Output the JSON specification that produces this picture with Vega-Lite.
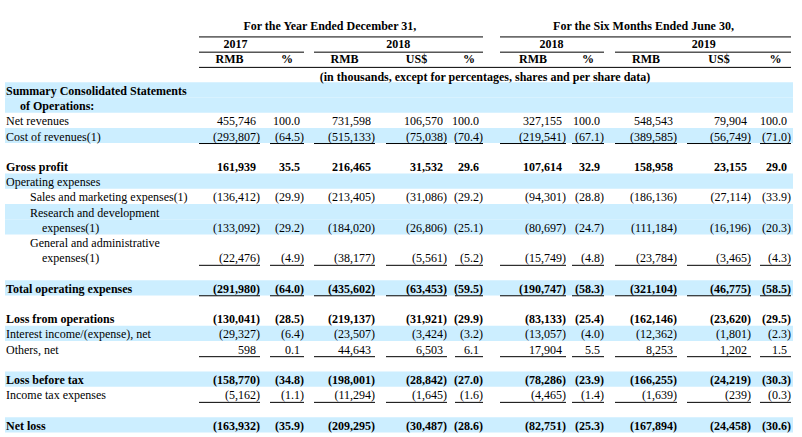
{
  "$schema": "https://vega.github.io/schema/vega-lite/v6.json",
  "width": 802,
  "height": 437,
  "padding": 0,
  "autosize": {"type": "none"},
  "background": "white",
  "config": {"view": {"stroke": null}},
  "datasets": {
    "bands": [{"r":0,"c1":-1,"c2":9},{"r":1,"c1":-1,"c2":9},{"r":3,"c1":-1,"c2":9},{"r":6,"c1":-1,"c2":9},{"r":8,"c1":-1,"c2":9},{"r":9,"c1":-1,"c2":9},{"r":13,"c1":-1,"c2":9},{"r":16,"c1":-1,"c2":9},{"r":19,"c1":-1,"c2":9},{"r":22,"c1":-1,"c2":9}],
    "hdr": [
      {"r":-4,"c":1.63,"t":"For the Year Ended December 31,"},
      {"r":-4,"c":6.73,"t":"For the Six Months Ended June 30,"},
      {"r":-3,"c":-0.2,"t":"2017"},
      {"r":-3,"c":2.6,"t":"2018"},
      {"r":-3,"c":4.89,"t":"2018"},
      {"r":-3,"c":7.63,"t":"2019"},
      {"r":-2,"c":-0.25,"t":"RMB"},
      {"r":-2,"c":0.75,"t":"%"},
      {"r":-2,"c":1.75,"t":"RMB"},
      {"r":-2,"c":2.75,"t":"US$"},
      {"r":-2,"c":3.75,"t":"%"},
      {"r":-2,"c":4.75,"t":"RMB"},
      {"r":-2,"c":5.75,"t":"%"},
      {"r":-2,"c":6.75,"t":"RMB"},
      {"r":-2,"c":7.75,"t":"US$"},
      {"r":-2,"c":8.75,"t":"%"},
      {"r":-1,"c":4.06,"t":"(in thousands, except for percentages, shares and per share data)"}
    ],
    "lines": [
      {"r":-4,"c1":-0.5,"c2":4},{"r":-4,"c1":4.5,"c2":9},
      {"r":-3,"c1":-0.5,"c2":1},{"r":-3,"c1":1.5,"c2":4},{"r":-3,"c1":4.5,"c2":6},{"r":-3,"c1":6.5,"c2":9},
      {"r":-2,"c1":-0.5,"c2":9},
      {"r":3,"c1":-0.5,"c2":0},{"r":3,"c1":0.5,"c2":1},{"r":3,"c1":1.5,"c2":2},{"r":3,"c1":2.5,"c2":3},{"r":3,"c1":3.5,"c2":4},{"r":3,"c1":4.5,"c2":5},{"r":3,"c1":5.5,"c2":6},{"r":3,"c1":6.5,"c2":7},{"r":3,"c1":7.5,"c2":8},{"r":3,"c1":8.5,"c2":9},
      {"r":11,"c1":-0.5,"c2":0},{"r":11,"c1":0.5,"c2":1},{"r":11,"c1":1.5,"c2":2},{"r":11,"c1":2.5,"c2":3},{"r":11,"c1":3.5,"c2":4},{"r":11,"c1":4.5,"c2":5},{"r":11,"c1":5.5,"c2":6},{"r":11,"c1":6.5,"c2":7},{"r":11,"c1":7.5,"c2":8},{"r":11,"c1":8.5,"c2":9},
      {"r":13,"c1":-0.5,"c2":0},{"r":13,"c1":0.5,"c2":1},{"r":13,"c1":1.5,"c2":2},{"r":13,"c1":2.5,"c2":3},{"r":13,"c1":3.5,"c2":4},{"r":13,"c1":4.5,"c2":5},{"r":13,"c1":5.5,"c2":6},{"r":13,"c1":6.5,"c2":7},{"r":13,"c1":7.5,"c2":8},{"r":13,"c1":8.5,"c2":9},
      {"r":17,"c1":-0.5,"c2":0},{"r":17,"c1":0.5,"c2":1},{"r":17,"c1":1.5,"c2":2},{"r":17,"c1":2.5,"c2":3},{"r":17,"c1":3.5,"c2":4},{"r":17,"c1":4.5,"c2":5},{"r":17,"c1":5.5,"c2":6},{"r":17,"c1":6.5,"c2":7},{"r":17,"c1":7.5,"c2":8},{"r":17,"c1":8.5,"c2":9},
      {"r":20,"c1":-0.5,"c2":0},{"r":20,"c1":0.5,"c2":1},{"r":20,"c1":1.5,"c2":2},{"r":20,"c1":2.5,"c2":3},{"r":20,"c1":3.5,"c2":4},{"r":20,"c1":4.5,"c2":5},{"r":20,"c1":5.5,"c2":6},{"r":20,"c1":6.5,"c2":7},{"r":20,"c1":7.5,"c2":8},{"r":20,"c1":8.5,"c2":9}
    ],
    "labs": [
      {"r":0,"c":-1,"t":"Summary Consolidated Statements","b":1,"l":0},
      {"r":1,"c":-1,"t":"of Operations:","b":1,"l":1},
      {"r":2,"c":-1,"t":"Net revenues","b":0,"l":0},
      {"r":3,"c":-1,"t":"Cost of revenues(1)","b":0,"l":0},
      {"r":5,"c":-1,"t":"Gross profit","b":1,"l":0},
      {"r":6,"c":-1,"t":"Operating expenses","b":0,"l":0},
      {"r":7,"c":-1,"t":"Sales and marketing expenses(1)","b":0,"l":2},
      {"r":8,"c":-1,"t":"Research and development","b":0,"l":2},
      {"r":9,"c":-1,"t":"expenses(1)","b":0,"l":3},
      {"r":10,"c":-1,"t":"General and administrative","b":0,"l":2},
      {"r":11,"c":-1,"t":"expenses(1)","b":0,"l":3},
      {"r":13,"c":-1,"t":"Total operating expenses","b":1,"l":0},
      {"r":15,"c":-1,"t":"Loss from operations","b":1,"l":0},
      {"r":16,"c":-1,"t":"Interest income/(expense), net","b":0,"l":0},
      {"r":17,"c":-1,"t":"Others, net","b":0,"l":0},
      {"r":19,"c":-1,"t":"Loss before tax","b":1,"l":0},
      {"r":20,"c":-1,"t":"Income tax expenses","b":0,"l":0},
      {"r":22,"c":-1,"t":"Net loss","b":1,"l":0}
    ],
    "vals": [
      {"r":2,"c":0,"v":455746,"b":0},{"r":2,"c":1,"v":100.0,"b":0},{"r":2,"c":2,"v":731598,"b":0},{"r":2,"c":3,"v":106570,"b":0},{"r":2,"c":4,"v":100.0,"b":0},{"r":2,"c":5,"v":327155,"b":0},{"r":2,"c":6,"v":100.0,"b":0},{"r":2,"c":7,"v":548543,"b":0},{"r":2,"c":8,"v":79904,"b":0},{"r":2,"c":9,"v":100.0,"b":0},
      {"r":3,"c":0,"v":-293807,"b":0},{"r":3,"c":1,"v":-64.5,"b":0},{"r":3,"c":2,"v":-515133,"b":0},{"r":3,"c":3,"v":-75038,"b":0},{"r":3,"c":4,"v":-70.4,"b":0},{"r":3,"c":5,"v":-219541,"b":0},{"r":3,"c":6,"v":-67.1,"b":0},{"r":3,"c":7,"v":-389585,"b":0},{"r":3,"c":8,"v":-56749,"b":0},{"r":3,"c":9,"v":-71.0,"b":0},
      {"r":5,"c":0,"v":161939,"b":1},{"r":5,"c":1,"v":35.5,"b":1},{"r":5,"c":2,"v":216465,"b":1},{"r":5,"c":3,"v":31532,"b":1},{"r":5,"c":4,"v":29.6,"b":1},{"r":5,"c":5,"v":107614,"b":1},{"r":5,"c":6,"v":32.9,"b":1},{"r":5,"c":7,"v":158958,"b":1},{"r":5,"c":8,"v":23155,"b":1},{"r":5,"c":9,"v":29.0,"b":1},
      {"r":7,"c":0,"v":-136412,"b":0},{"r":7,"c":1,"v":-29.9,"b":0},{"r":7,"c":2,"v":-213405,"b":0},{"r":7,"c":3,"v":-31086,"b":0},{"r":7,"c":4,"v":-29.2,"b":0},{"r":7,"c":5,"v":-94301,"b":0},{"r":7,"c":6,"v":-28.8,"b":0},{"r":7,"c":7,"v":-186136,"b":0},{"r":7,"c":8,"v":-27114,"b":0},{"r":7,"c":9,"v":-33.9,"b":0},
      {"r":9,"c":0,"v":-133092,"b":0},{"r":9,"c":1,"v":-29.2,"b":0},{"r":9,"c":2,"v":-184020,"b":0},{"r":9,"c":3,"v":-26806,"b":0},{"r":9,"c":4,"v":-25.1,"b":0},{"r":9,"c":5,"v":-80697,"b":0},{"r":9,"c":6,"v":-24.7,"b":0},{"r":9,"c":7,"v":-111184,"b":0},{"r":9,"c":8,"v":-16196,"b":0},{"r":9,"c":9,"v":-20.3,"b":0},
      {"r":11,"c":0,"v":-22476,"b":0},{"r":11,"c":1,"v":-4.9,"b":0},{"r":11,"c":2,"v":-38177,"b":0},{"r":11,"c":3,"v":-5561,"b":0},{"r":11,"c":4,"v":-5.2,"b":0},{"r":11,"c":5,"v":-15749,"b":0},{"r":11,"c":6,"v":-4.8,"b":0},{"r":11,"c":7,"v":-23784,"b":0},{"r":11,"c":8,"v":-3465,"b":0},{"r":11,"c":9,"v":-4.3,"b":0},
      {"r":13,"c":0,"v":-291980,"b":1},{"r":13,"c":1,"v":-64.0,"b":1},{"r":13,"c":2,"v":-435602,"b":1},{"r":13,"c":3,"v":-63453,"b":1},{"r":13,"c":4,"v":-59.5,"b":1},{"r":13,"c":5,"v":-190747,"b":1},{"r":13,"c":6,"v":-58.3,"b":1},{"r":13,"c":7,"v":-321104,"b":1},{"r":13,"c":8,"v":-46775,"b":1},{"r":13,"c":9,"v":-58.5,"b":1},
      {"r":15,"c":0,"v":-130041,"b":1},{"r":15,"c":1,"v":-28.5,"b":1},{"r":15,"c":2,"v":-219137,"b":1},{"r":15,"c":3,"v":-31921,"b":1},{"r":15,"c":4,"v":-29.9,"b":1},{"r":15,"c":5,"v":-83133,"b":1},{"r":15,"c":6,"v":-25.4,"b":1},{"r":15,"c":7,"v":-162146,"b":1},{"r":15,"c":8,"v":-23620,"b":1},{"r":15,"c":9,"v":-29.5,"b":1},
      {"r":16,"c":0,"v":-29327,"b":0},{"r":16,"c":1,"v":-6.4,"b":0},{"r":16,"c":2,"v":-23507,"b":0},{"r":16,"c":3,"v":-3424,"b":0},{"r":16,"c":4,"v":-3.2,"b":0},{"r":16,"c":5,"v":-13057,"b":0},{"r":16,"c":6,"v":-4.0,"b":0},{"r":16,"c":7,"v":-12362,"b":0},{"r":16,"c":8,"v":-1801,"b":0},{"r":16,"c":9,"v":-2.3,"b":0},
      {"r":17,"c":0,"v":598,"b":0},{"r":17,"c":1,"v":0.1,"b":0},{"r":17,"c":2,"v":44643,"b":0},{"r":17,"c":3,"v":6503,"b":0},{"r":17,"c":4,"v":6.1,"b":0},{"r":17,"c":5,"v":17904,"b":0},{"r":17,"c":6,"v":5.5,"b":0},{"r":17,"c":7,"v":8253,"b":0},{"r":17,"c":8,"v":1202,"b":0},{"r":17,"c":9,"v":1.5,"b":0},
      {"r":19,"c":0,"v":-158770,"b":1},{"r":19,"c":1,"v":-34.8,"b":1},{"r":19,"c":2,"v":-198001,"b":1},{"r":19,"c":3,"v":-28842,"b":1},{"r":19,"c":4,"v":-27.0,"b":1},{"r":19,"c":5,"v":-78286,"b":1},{"r":19,"c":6,"v":-23.9,"b":1},{"r":19,"c":7,"v":-166255,"b":1},{"r":19,"c":8,"v":-24219,"b":1},{"r":19,"c":9,"v":-30.3,"b":1},
      {"r":20,"c":0,"v":-5162,"b":0},{"r":20,"c":1,"v":-1.1,"b":0},{"r":20,"c":2,"v":-11294,"b":0},{"r":20,"c":3,"v":-1645,"b":0},{"r":20,"c":4,"v":-1.6,"b":0},{"r":20,"c":5,"v":-4465,"b":0},{"r":20,"c":6,"v":-1.4,"b":0},{"r":20,"c":7,"v":-1639,"b":0},{"r":20,"c":8,"v":-239,"b":0},{"r":20,"c":9,"v":-0.3,"b":0},
      {"r":22,"c":0,"v":-163932,"b":1},{"r":22,"c":1,"v":-35.9,"b":1},{"r":22,"c":2,"v":-209295,"b":1},{"r":22,"c":3,"v":-30487,"b":1},{"r":22,"c":4,"v":-28.6,"b":1},{"r":22,"c":5,"v":-82751,"b":1},{"r":22,"c":6,"v":-25.3,"b":1},{"r":22,"c":7,"v":-167894,"b":1},{"r":22,"c":8,"v":-24458,"b":1},{"r":22,"c":9,"v":-30.6,"b":1}
    ]
  },
  "encoding": {
    "x": {"field": "c", "type": "quantitative", "axis": null,
      "scale": {"domain": [-1,-0.5,0,0.5,1,1.5,2,2.5,3,3.5,4,4.5,5,5.5,6,6.5,7,7.5,8,8.5,9], "range": [6,199,260,270,304,314,375,386,447,455,483,500,566,572,604,615,677,687,751,760,791], "nice": false, "zero": false}},
    "y": {"field": "r", "type": "quantitative", "axis": null,
      "scale": {"domain": [-5.9, 22.8], "range": [0, 437], "nice": false, "zero": false}}
  },
  "layer": [
    {"data": {"name": "bands"},
     "mark": {"type": "rect", "color": "#CCEEFF", "xOffset": -1, "x2Offset": 2, "yOffset": -7.6, "y2Offset": 7.6},
     "encoding": {"x": {"field": "c1", "type": "quantitative"}, "x2": {"field": "c2"}, "y2": {"field": "r"}}},
    {"data": {"name": "lines"},
     "mark": {"type": "rule", "color": "black", "strokeWidth": 1, "yOffset": 8},
     "encoding": {"x": {"field": "c1", "type": "quantitative"}, "x2": {"field": "c2"}}},
    {"data": {"name": "hdr"}, "transform": [{"filter": "datum.r == -4"}],
     "mark": {"type": "text", "align": "center", "baseline": "middle", "font": "Liberation Serif", "fontSize": 12, "fontWeight": "bold", "color": "black", "dy": -3},
     "encoding": {"text": {"field": "t"}}},
    {"data": {"name": "hdr"}, "transform": [{"filter": "datum.r == -3 || datum.r == -2"}],
     "mark": {"type": "text", "align": "center", "baseline": "middle", "font": "Liberation Serif", "fontSize": 12, "fontWeight": "bold", "color": "black"},
     "encoding": {"text": {"field": "t"}}},
    {"data": {"name": "hdr"}, "transform": [{"filter": "datum.r == -1"}],
     "mark": {"type": "text", "align": "center", "baseline": "middle", "font": "Liberation Serif", "fontSize": 12, "fontWeight": "bold", "color": "black", "dy": 2},
     "encoding": {"text": {"field": "t"}}},
    {"data": {"name": "labs"}, "transform": [{"filter": "datum.b == 1 && datum.l == 0"}],
     "mark": {"type": "text", "align": "left", "baseline": "middle", "font": "Liberation Serif", "fontSize": 12, "fontWeight": "bold", "color": "black", "dy": 1},
     "encoding": {"text": {"field": "t"}}},
    {"data": {"name": "labs"}, "transform": [{"filter": "datum.b == 1 && datum.l == 1"}],
     "mark": {"type": "text", "align": "left", "baseline": "middle", "font": "Liberation Serif", "fontSize": 12, "fontWeight": "bold", "color": "black", "dx": 14, "dy": 1},
     "encoding": {"text": {"field": "t"}}},
    {"data": {"name": "labs"}, "transform": [{"filter": "datum.b == 0 && datum.l == 0"}],
     "mark": {"type": "text", "align": "left", "baseline": "middle", "font": "Liberation Serif", "fontSize": 12, "color": "black", "dy": 1},
     "encoding": {"text": {"field": "t"}}},
    {"data": {"name": "labs"}, "transform": [{"filter": "datum.b == 0 && datum.l == 2"}],
     "mark": {"type": "text", "align": "left", "baseline": "middle", "font": "Liberation Serif", "fontSize": 12, "color": "black", "dx": 24, "dy": 1},
     "encoding": {"text": {"field": "t"}}},
    {"data": {"name": "labs"}, "transform": [{"filter": "datum.b == 0 && datum.l == 3"}],
     "mark": {"type": "text", "align": "left", "baseline": "middle", "font": "Liberation Serif", "fontSize": 12, "color": "black", "dx": 36, "dy": 1},
     "encoding": {"text": {"field": "t"}}},
    {"data": {"name": "vals"}, "transform": [{"filter": "indexof([1,4,6,9], datum.c) < 0 && datum.v < 0 && datum.b == 0"}],
     "mark": {"type": "text", "align": "right", "baseline": "middle", "font": "Liberation Serif", "fontSize": 12, "color": "black", "dy": 1},
     "encoding": {"text": {"field": "v", "type": "quantitative", "format": "(,.0f"}}},
    {"data": {"name": "vals"}, "transform": [{"filter": "indexof([1,4,6,9], datum.c) < 0 && datum.v >= 0 && datum.b == 0"}],
     "mark": {"type": "text", "align": "right", "baseline": "middle", "font": "Liberation Serif", "fontSize": 12, "color": "black", "dx": -4, "dy": 1},
     "encoding": {"text": {"field": "v", "type": "quantitative", "format": "(,.0f"}}},
    {"data": {"name": "vals"}, "transform": [{"filter": "indexof([1,4,6,9], datum.c) < 0 && datum.v < 0 && datum.b == 1"}],
     "mark": {"type": "text", "align": "right", "baseline": "middle", "font": "Liberation Serif", "fontSize": 12, "fontWeight": "bold", "color": "black", "dy": 1},
     "encoding": {"text": {"field": "v", "type": "quantitative", "format": "(,.0f"}}},
    {"data": {"name": "vals"}, "transform": [{"filter": "indexof([1,4,6,9], datum.c) < 0 && datum.v >= 0 && datum.b == 1"}],
     "mark": {"type": "text", "align": "right", "baseline": "middle", "font": "Liberation Serif", "fontSize": 12, "fontWeight": "bold", "color": "black", "dx": -4, "dy": 1},
     "encoding": {"text": {"field": "v", "type": "quantitative", "format": "(,.0f"}}},
    {"data": {"name": "vals"}, "transform": [{"filter": "indexof([1,4,6,9], datum.c) >= 0 && datum.v < 0 && datum.b == 0"}],
     "mark": {"type": "text", "align": "right", "baseline": "middle", "font": "Liberation Serif", "fontSize": 12, "color": "black", "dy": 1},
     "encoding": {"text": {"field": "v", "type": "quantitative", "format": "(.1f"}}},
    {"data": {"name": "vals"}, "transform": [{"filter": "indexof([1,4,6,9], datum.c) >= 0 && datum.v >= 0 && datum.b == 0"}],
     "mark": {"type": "text", "align": "right", "baseline": "middle", "font": "Liberation Serif", "fontSize": 12, "color": "black", "dx": -4, "dy": 1},
     "encoding": {"text": {"field": "v", "type": "quantitative", "format": "(.1f"}}},
    {"data": {"name": "vals"}, "transform": [{"filter": "indexof([1,4,6,9], datum.c) >= 0 && datum.v < 0 && datum.b == 1"}],
     "mark": {"type": "text", "align": "right", "baseline": "middle", "font": "Liberation Serif", "fontSize": 12, "fontWeight": "bold", "color": "black", "dy": 1},
     "encoding": {"text": {"field": "v", "type": "quantitative", "format": "(.1f"}}},
    {"data": {"name": "vals"}, "transform": [{"filter": "indexof([1,4,6,9], datum.c) >= 0 && datum.v >= 0 && datum.b == 1"}],
     "mark": {"type": "text", "align": "right", "baseline": "middle", "font": "Liberation Serif", "fontSize": 12, "fontWeight": "bold", "color": "black", "dx": -4, "dy": 1},
     "encoding": {"text": {"field": "v", "type": "quantitative", "format": "(.1f"}}}
  ]
}
